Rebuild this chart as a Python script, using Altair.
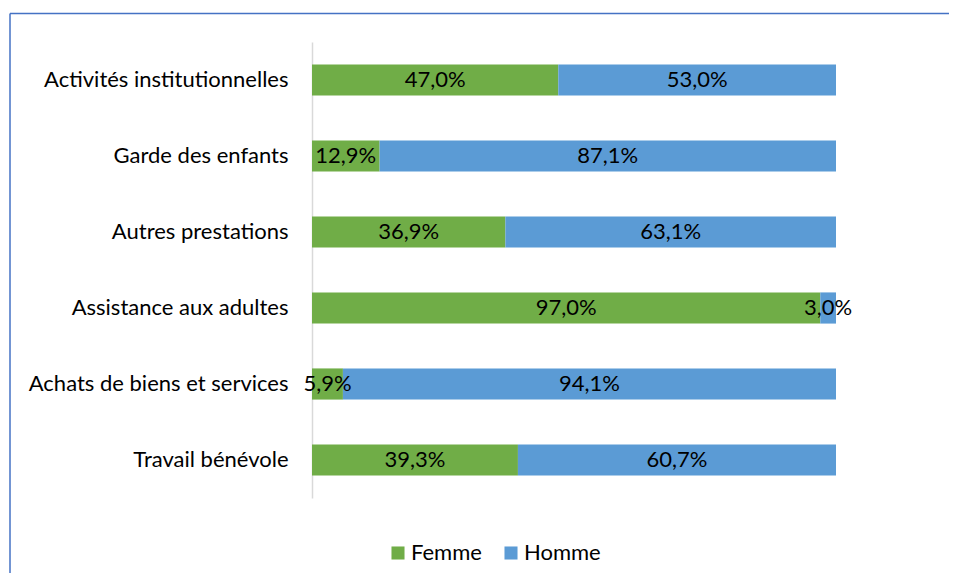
import altair as alt
import pandas as pd

categories = ["Activités institutionnelles", "Garde des enfants", "Autres prestations",
              "Assistance aux adultes", "Achats de biens et services", "Travail bénévole"]
femme = [47.0, 12.9, 36.9, 97.0, 5.9, 39.3]
homme = [53.0, 87.1, 63.1, 3.0, 94.1, 60.7]
series = ["Femme", "Homme"]
colors = ["#70AD47", "#5B9BD5"]

rows = []
for i, c in enumerate(categories):
    for s, vals in zip(series, [femme, homme]):
        v = vals[i]
        rows.append({"cat": c, "sexe": s, "val": v, "order": series.index(s),
                     "label": f"{v:.1f}".replace(".", ",") + "%"})
df = pd.DataFrame(rows)

FONT = "Lato"
FS = 22

base = alt.Chart(df).transform_stack(
    stack="val", groupby=["cat"], as_=["x0", "x1"], sort=[alt.SortField("order")]
).transform_calculate(mid="(datum.x0 + datum.x1) / 2")

yenc = alt.Y("cat:N", sort=categories, title=None,
             scale=alt.Scale(paddingInner=0.59, paddingOuter=0.295),
             axis=alt.Axis(ticks=False, domainColor="#D9D9D9", domainWidth=1.5,
                           labelFont=FONT, labelFontSize=FS, labelColor="#000000",
                           labelPadding=24, labelLimit=400))
xscale = alt.Scale(domain=[0, 100], nice=False)

bars = base.mark_bar().encode(
    y=yenc,
    x=alt.X("x0:Q", scale=xscale, axis=None),
    x2="x1:Q",
    color=alt.Color("sexe:N", scale=alt.Scale(domain=series, range=colors),
                    legend=alt.Legend(title=None, orient="none", direction="horizontal",
                                      legendX=75, legendY=500,
                                      symbolType="square", symbolSize=170,
                                      symbolStrokeWidth=0,
                                      labelFont=FONT, labelFontSize=FS,
                                      labelColor="#000000", columnPadding=18,
                                      labelOffset=2)),
)

text = base.mark_text(font=FONT, fontSize=FS, color="#000000").encode(
    y=alt.Y("cat:N", sort=categories),
    x=alt.X("mid:Q", scale=xscale),
    text="label:N",
)

border_top = alt.Chart(pd.DataFrame({"a": [0]})).mark_rule(color="#4472C4", strokeWidth=1.5).encode(
    x=alt.value(-302), x2=alt.value(700), y=alt.value(-28.5))
border_left = alt.Chart(pd.DataFrame({"a": [0]})).mark_rule(color="#4472C4", strokeWidth=1.5).encode(
    x=alt.value(-302), y=alt.value(-28.5), y2=alt.value(600))

chart = alt.layer(bars, text, border_top, border_left).properties(
    width=524, height=456,
    autosize=alt.AutoSizeParams(type="none"),
    padding={"left": 304, "top": 34, "right": 113, "bottom": 75},
).configure(font=FONT).configure_view(strokeWidth=0, stroke="transparent")

chart.save("out.html", embed_options={"renderer": "svg", "actions": False})
